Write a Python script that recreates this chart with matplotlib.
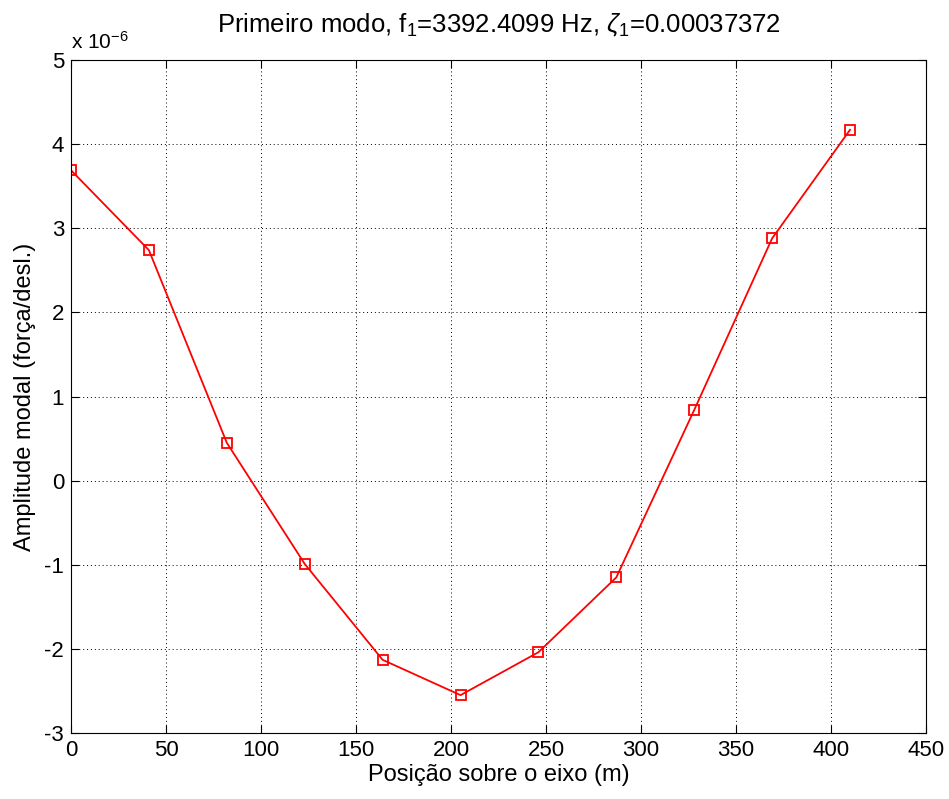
import matplotlib.pyplot as plt

plt.rcParams['font.family'] = ['Liberation Sans', 'DejaVu Sans']
plt.rcParams['mathtext.fontset'] = 'custom'
plt.rcParams['mathtext.rm'] = 'Liberation Sans'
plt.rcParams['mathtext.it'] = 'Liberation Sans:italic'

posicao = [0, 41, 82, 123, 164, 205, 246, 287, 328, 369, 410]
amplitude = [3.69, 2.74, 0.45, -0.99, -2.13, -2.55, -2.04, -1.15, 0.84, 2.88, 4.17]
xticks = [0, 50, 100, 150, 200, 250, 300, 350, 400, 450]
yticks = [-3, -2, -1, 0, 1, 2, 3, 4, 5]

fig = plt.figure(figsize=(9.49, 7.99), dpi=100)
ax = fig.add_axes([0.0748, 0.0826, 0.901, 0.8423])

ax.plot(posicao, amplitude, 'r-', lw=1.3, marker='s', ms=7, mfc='none', mec='r', mew=1.3)

ax.set_xlim(0, 450)
ax.set_ylim(-3, 5)
ax.set_xticks(xticks)
ax.set_yticks(yticks)
ax.set_yticklabels([str(v) for v in yticks])
ax.tick_params(direction='in', labelsize=16, length=6, top=True, right=True, pad=5)
ax.grid(True, color='k', linestyle=(0, (1, 3)), linewidth=0.7)

ax.set_xlabel('Posição sobre o eixo (m)', fontsize=17, labelpad=2)
ax.set_ylabel('Amplitude modal (força/desl.)', fontsize=17, labelpad=6)
ax.set_title(r'Primeiro modo, f$_1$=3392.4099 Hz, $\zeta_1$=0.00037372', fontsize=18.5, pad=20)
ax.text(0, 1.01, r'x 10$^{-6}$', transform=ax.transAxes, fontsize=15, ha='left', va='bottom')

fig.savefig('out.png', dpi=100)
